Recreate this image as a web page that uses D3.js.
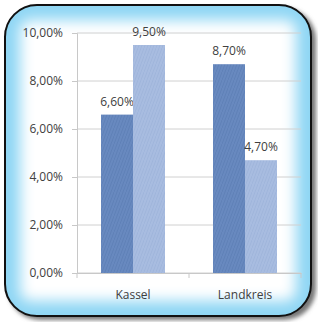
<!DOCTYPE html>
<html><head><meta charset="utf-8">
<script src="https://cdn.jsdelivr.net/npm/d3@7"></script>
<style>body{margin:0;background:#fff}svg{display:block}</style>
</head><body>
<script>
const categories = ["Kassel", "Landkreis"];
const series1 = [6.6, 8.7];
const series2 = [9.5, 4.7];
const yTicks = [0, 2, 4, 6, 8, 10];

const W = 318, H = 322;
const svg = d3.select("body").append("svg").attr("width", W).attr("height", H);
const defs = svg.append("defs");
const blur = defs.append("filter").attr("id", "blur").attr("x", "-20%").attr("y", "-20%").attr("width", "140%").attr("height", "140%");
blur.append("feGaussianBlur").attr("stdDeviation", 7);
const sh = defs.append("filter").attr("id", "sh").attr("x", "-20%").attr("y", "-20%").attr("width", "140%").attr("height", "140%");
sh.append("feGaussianBlur").attr("stdDeviation", 2);

function hatch(id, base, line) {
  const p = defs.append("pattern").attr("id", id).attr("patternUnits", "userSpaceOnUse")
    .attr("width", 6).attr("height", 8);
  p.append("rect").attr("width", 6).attr("height", 8).attr("fill", base);
  p.append("path").attr("d", "M0,8 L3,0 M3,8 L6,0").attr("stroke", line).attr("stroke-width", 0.6).attr("opacity", 0.6);
}
hatch("h1", "#6889bf", "#4d6fa6");
hatch("h2", "#a8bce0", "#8ea6d2");

// shadow
svg.append("rect").attr("x", 8).attr("y", 8).attr("width", 308).attr("height", 312).attr("rx", 32)
  .attr("fill", "#777").attr("filter", "url(#sh)");
// frame
const clip = defs.append("clipPath").attr("id", "fc");
clip.append("rect").attr("x", 5).attr("y", 5).attr("width", 306).attr("height", 311).attr("rx", 32);
const fg = svg.append("g").attr("clip-path", "url(#fc)");
fg.append("rect").attr("x", 5).attr("y", 5).attr("width", 306).attr("height", 311).attr("fill", "#8fd6f4");
fg.append("rect").attr("x", 20).attr("y", 20).attr("width", 276).attr("height", 281).attr("rx", 10)
  .attr("fill", "#fff").attr("filter", "url(#blur)");
svg.append("rect").attr("x", 5).attr("y", 5).attr("width", 306).attr("height", 311).attr("rx", 32)
  .attr("fill", "none").attr("stroke", "#111").attr("stroke-width", 2);

const x0 = 77, x1 = 301, yTop = 33, yBot = 273;
const x = d3.scaleBand().domain(categories).range([x0, x1]);
const y = d3.scaleLinear().domain([0, 10]).range([yBot, yTop]);
const barW = 32;

// gridlines
svg.append("g").selectAll("line").data(yTicks).join("line")
  .attr("x1", x0).attr("x2", x1).attr("y1", d => y(d)).attr("y2", d => y(d))
  .attr("stroke", "#d0d0d0").attr("stroke-width", 1);

const fmt = v => v.toFixed(2).replace(".", ",") + "%";

// y axis
const yAxis = d3.axisLeft(y).tickValues(yTicks).tickFormat(fmt).tickSize(5).tickPadding(9);
const ya = svg.append("g").attr("transform", `translate(${x0},0)`).call(yAxis);
ya.select(".domain").attr("stroke", "#c8c8c8");
ya.selectAll(".tick line").attr("stroke", "#c8c8c8");
ya.selectAll("text").attr("fill", "#404040").style("font-family", "Open Sans, sans-serif").style("font-size", "12px");

// x axis
const xa = svg.append("g").attr("transform", `translate(0,${yBot})`)
  .call(d3.axisBottom(x).tickSize(0).tickPadding(17));
xa.select(".domain").attr("stroke", "#c8c8c8");
xa.selectAll("text").attr("fill", "#404040").style("font-family", "Open Sans, sans-serif").style("font-size", "12px");
svg.append("g").selectAll("line").data([x0, x0 + x.bandwidth(), x1]).join("line")
  .attr("x1", d => d).attr("x2", d => d).attr("y1", yBot).attr("y2", yBot + 5).attr("stroke", "#c8c8c8");

// bars
const rows = categories.map((c, i) => ({ c, a: series1[i], b: series2[i] }));
const g = svg.append("g");
rows.forEach(r => {
  const cx = x(r.c) + x.bandwidth() / 2;
  [[r.a, cx - barW, "url(#h1)"], [r.b, cx, "url(#h2)"]].forEach(([v, bx, f]) => {
    g.append("rect").attr("x", bx).attr("y", y(v)).attr("width", barW).attr("height", yBot - y(v)).attr("fill", f);
    g.append("text").attr("x", bx + barW / 2).attr("y", y(v) - 9).attr("text-anchor", "middle")
      .attr("fill", "#404040").style("font-family", "Open Sans, sans-serif").style("font-size", "12px").text(fmt(v));
  });
});
</script>
</body></html>
